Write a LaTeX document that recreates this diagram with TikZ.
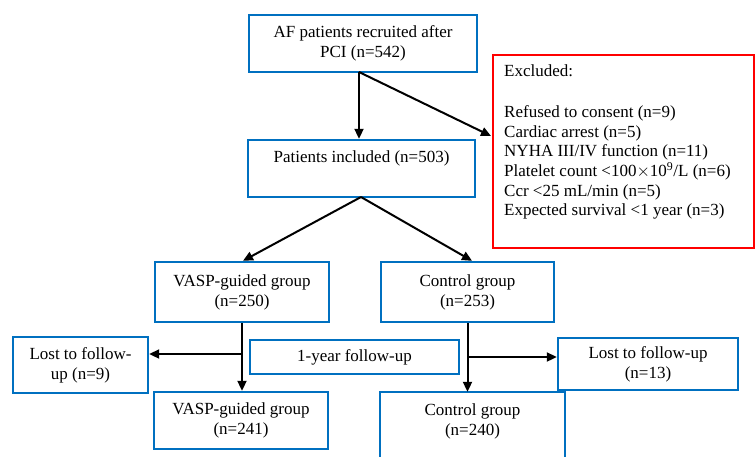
\documentclass[tikz,border=0pt]{standalone}
\usepackage{fontspec}
\setmainfont{Liberation Serif}
\usetikzlibrary{arrows.meta,calc}
\definecolor{boxblue}{RGB}{0,112,192}
\tikzset{
  box/.style={draw=boxblue, line width=2.4pt, align=center, inner sep=2pt,
    font=\fontsize{17}{20}\selectfont},
  redbox/.style={draw=red, line width=2pt},
  arr/.style={draw=black, line width=2pt, -{Triangle[length=10pt,width=9pt]}},
}
\begin{document}
\begin{tikzpicture}[x=1pt,y=-1pt]
\clip (0,0) rectangle (755,456);
\fill[white] (0,0) rectangle (755,456);
% boxes
\node[box, minimum width=228, minimum height=57] (af) at (363,43.5) {AF patients recruited after\\PCI (n=542)};
\node[box, minimum width=227, minimum height=57, text height=11pt, text depth=24pt] (inc) at (361.5,168.5) {Patients included (n=503)};
\node[redbox, anchor=north west, minimum width=261, minimum height=193] (exc) at (492,54) {};
\node[anchor=north west, align=left, inner sep=0pt, font=\fontsize{17}{19.6}\selectfont] (exctext) at (504,64) {Excluded:\\[22pt]Refused to consent (n=9)\\Cardiac arrest (n=5)\\NYHA III/IV function (n=11)\\Platelet count \textless100$\times$10\textsuperscript{9}/L (n=6)\\Ccr \textless25 mL/min (n=5)\\Expected survival \textless1 year (n=3)};
\node[box, minimum width=174, minimum height=60] (vasp) at (242,292) {VASP-guided group\\(n=250)};
\node[box, minimum width=173, minimum height=60] (ctrl) at (467.5,292) {Control group\\(n=253)};
\node[box, minimum width=135, minimum height=56] (lostl) at (80.5,365) {Lost to follow-\\up (n=9)};
\node[box, minimum width=209, minimum height=34] (fu) at (354.5,357) {1-year follow-up};
\node[box, minimum width=180, minimum height=52] (lostr) at (648,364) {Lost to follow-up\\(n=13)};
\node[box, minimum width=174, minimum height=57] (vasp2) at (241,420.5) {VASP-guided group\\(n=241)};
\node[box, draw=none, minimum width=183, minimum height=57] (ctrl2) at (472.5,421.5) {Control group\\(n=240)};
\draw[boxblue, line width=2.4pt] (ctrl2.south west) -- ++(0,30) (ctrl2.south east) -- ++(0,30)
  (ctrl2.south west) -- (ctrl2.north west) -- (ctrl2.north east) -- (ctrl2.south east);
% connectors
\coordinate (s1) at (359,72);
\draw[arr] (s1) -- (s1 |- inc.north);
\draw[arr] (s1) -- ($(exc.north west)+(-1,82)$);
\coordinate (s2) at (361,197);
\draw[arr] (s2) -- ($(vasp.north)+(1,0)$);
\draw[arr] (s2) -- ($(ctrl.north)+(4.5,0)$);
\coordinate (jl) at (242,354);
\draw[arr] (vasp.south) -- (vasp.south |- vasp2.north);
\draw[arr] (jl) -- (jl -| lostl.east);
\coordinate (jr) at (467,357);
\draw[arr] (ctrl.south) -- (ctrl.south |- ctrl2.north);
\draw[arr] (jr) -- (jr -| lostr.west);
\end{tikzpicture}
\end{document}
